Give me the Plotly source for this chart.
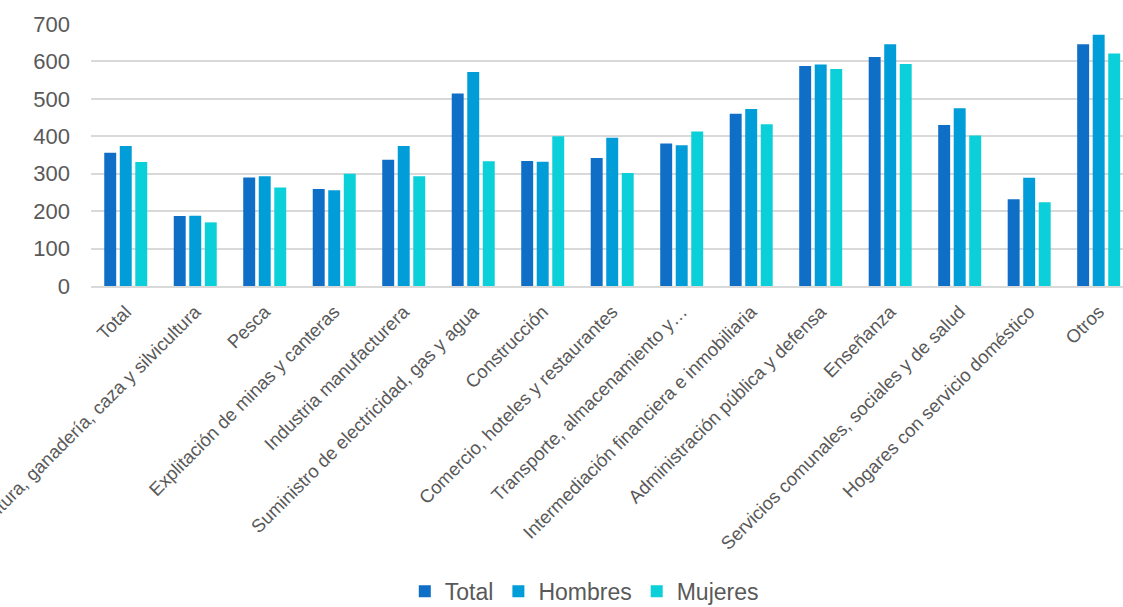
import plotly.graph_objects as go

# Sectores de actividad económica
sectores = [
    "Total",
    "Agricultura, ganadería, caza y silvicultura",
    "Pesca",
    "Explitación de minas y canteras",
    "Industria manufacturera",
    "Suministro de electricidad, gas y agua",
    "Construcción",
    "Comercio, hoteles y restaurantes",
    "Transporte, almacenamiento y…",
    "Intermediación financiera e inmobiliaria",
    "Administración pública y defensa",
    "Enseñanza",
    "Servicios comunales, sociales y de salud",
    "Hogares con servicio doméstico",
    "Otros",
]

total = [356, 187, 290, 259, 337, 514, 334, 342, 381, 460, 588, 612, 430, 232, 646]
hombres = [374, 188, 293, 256, 374, 572, 332, 396, 376, 473, 592, 646, 475, 289, 671]
mujeres = [331, 170, 263, 300, 293, 333, 400, 302, 413, 432, 580, 593, 402, 224, 621]

y_ticks = [0, 100, 200, 300, 400, 500, 600, 700]

colores = {"Total": "#0F6FC6", "Hombres": "#009DD9", "Mujeres": "#0BD0D9"}
texto = "#595959"
rejilla = "#D9D9D9"
fuente = "Liberation Sans, Arial, sans-serif"

fig = go.Figure()
for nombre, valores in [("Total", total), ("Hombres", hombres), ("Mujeres", mujeres)]:
    fig.add_trace(go.Bar(
        name=nombre,
        x=sectores,
        y=valores,
        marker=dict(color=colores[nombre], line=dict(width=0)),
    ))

fig.update_layout(
    width=1123,
    height=607,
    paper_bgcolor="white",
    plot_bgcolor="white",
    barmode="group",
    bargap=0.33,
    bargroupgap=0.23,
    margin=dict(l=91, r=0, t=24, b=321, autoexpand=False),
    font=dict(family=fuente, color=texto),
    showlegend=True,
    legend=dict(
        orientation="h",
        x=0.478, xanchor="center",
        y=-1.165, yanchor="middle",
        font=dict(size=23, color=texto, family=fuente),
        itemclick=False,
        traceorder="normal",
        tracegroupgap=0,
    ),
)

fig.update_yaxes(
    range=[0, 700],
    tickvals=y_ticks,
    ticktext=[str(v) for v in y_ticks],
    showgrid=True,
    gridcolor=rejilla,
    gridwidth=1.5,
    zeroline=False,
    showline=False,
    ticks="",
    ticklabelstandoff=20,
    tickfont=dict(size=22, color=texto, family=fuente),
)

fig.update_xaxes(
    range=[-0.5, 14.35],
    showgrid=False,
    showline=True,
    linecolor=rejilla,
    linewidth=1.5,
    ticks="",
    tickangle=-45,
    ticklabelstandoff=6,
    tickfont=dict(size=18.5, color=texto, family=fuente),
    automargin=False,
)

fig.write_html("out.html")
